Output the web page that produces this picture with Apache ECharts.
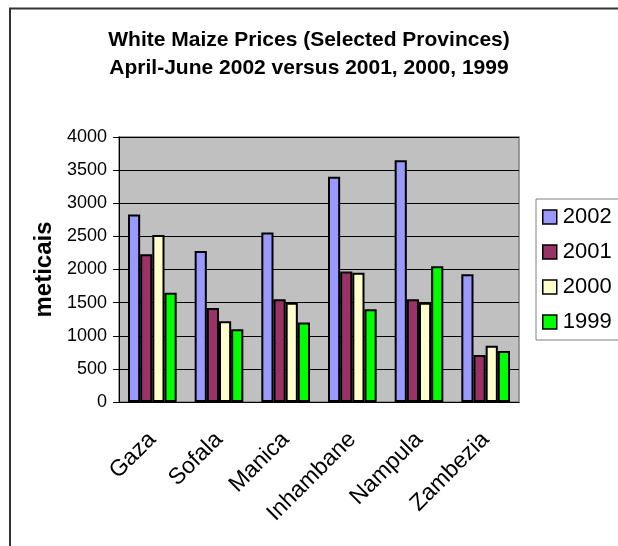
<!DOCTYPE html>
<html>
<head>
<meta charset="utf-8">
<script src="https://cdn.jsdelivr.net/npm/echarts@6/dist/echarts.min.js"></script>
<style>
  html, body { margin: 0; padding: 0; background: #fff; }
  #chart { width: 618px; height: 546px; }
</style>
</head>
<body>
<div id="chart"></div>
<script>
// provinces and prices (meticais), April-June of each year
const provinces = ['Gaza', 'Sofala', 'Manica', 'Inhambane', 'Nampula', 'Zambezia'];
const years = ['2002', '2001', '2000', '1999'];
const prices2002 = [2830, 2280, 2560, 3400, 3650, 1930];
const prices2001 = [2230, 1420, 1550, 1970, 1550, 710];
const prices2000 = [2520, 1220, 1500, 1950, 1500, 850];
const prices1999 = [1650, 1100, 1200, 1400, 2050, 770];
const colors = ['#9999ff', '#993366', '#ffffcc', '#00ff00'];

const chart = echarts.init(document.getElementById('chart'));
const font = 'Liberation Sans, Arial, sans-serif';

const seriesData = [prices2002, prices2001, prices2000, prices1999];

chart.setOption({
  animation: false,
  backgroundColor: '#fff',
  color: colors,
  textStyle: { fontFamily: font, color: '#000' },
  title: {
    text: 'White Maize Prices (Selected Provinces)\nApril-June 2002 versus 2001, 2000, 1999',
    left: 'center',
    top: 21,
    textStyle: { fontSize: 21, fontWeight: 'bold', lineHeight: 28, fontFamily: font, color: '#000' }
  },
  legend: {
    orient: 'vertical',
    left: 536,
    top: 199,
    padding: [7, 12, 7, 6],
    itemGap: 13,
    itemWidth: 14,
    itemHeight: 14,
    icon: 'rect',
    borderColor: '#808080',
    borderWidth: 1,
    backgroundColor: '#fff',
    itemStyle: { borderColor: '#000', borderWidth: 1.5 },
    textStyle: { fontSize: 22, lineHeight: 22, fontFamily: font, color: '#000', padding: [0, 0, 0, 1] },
    data: years
  },
  grid: {
    left: 119, top: 137, right: 99, bottom: 144,
    show: true,
    backgroundColor: '#c0c0c0',
    borderColor: '#808080',
    borderWidth: 1.5
  },
  xAxis: {
    type: 'category',
    data: provinces,
    axisLine: { lineStyle: { color: '#000', width: 1 } },
    axisTick: { length: 6, lineStyle: { color: '#000' } },
    axisLabel: { rotate: 45, fontSize: 23, margin: 34, color: '#000', fontFamily: font, interval: 0 }
  },
  yAxis: {
    type: 'value',
    min: 0,
    max: 4000,
    interval: 500,
    name: 'meticais',
    nameLocation: 'middle',
    nameGap: 57,
    nameTextStyle: { fontSize: 24, fontWeight: 'bold', color: '#000', fontFamily: font },
    axisLine: { show: true, lineStyle: { color: '#000', width: 1 } },
    axisTick: { show: true, length: 6, lineStyle: { color: '#000' } },
    axisLabel: { fontSize: 18, margin: 12, color: '#000', fontFamily: font, formatter: v => String(v) },
    splitLine: { lineStyle: { color: '#000', width: 1 } }
  },
  series: years.map((y, i) => ({
    name: y,
    type: 'bar',
    data: seriesData[i],
    barGap: '0%',
    barCategoryGap: '27%',
    itemStyle: { color: colors[i], borderColor: '#000', borderWidth: 2 }
  })),
  graphic: [{
    type: 'rect',
    shape: { x: 10, y: 8.5, width: 700, height: 700 },
    style: { fill: 'none', stroke: '#333', lineWidth: 2 },
    silent: true
  }]
});
</script>
</body>
</html>
